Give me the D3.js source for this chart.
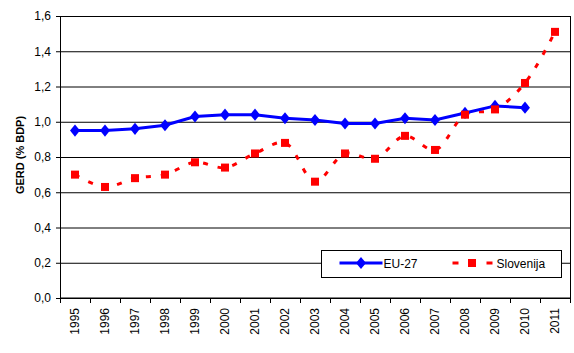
<!DOCTYPE html>
<html>
<head>
<meta charset="utf-8">
<script src="https://cdn.jsdelivr.net/npm/d3@7"></script>
<style>
  body { margin: 0; background: #fff; }
  text { font-family: Arial, "Liberation Sans", sans-serif; }
</style>
</head>
<body>
<div class="chart"></div>
<script>
// data
var years = ['1995', '1996', '1997', '1998', '1999', '2000', '2001', '2002', '2003',
             '2004', '2005', '2006', '2007', '2008', '2009', '2010', '2011'];
var eu27 = [0.95, 0.95, 0.96, 0.98, 1.03, 1.04, 1.04, 1.02, 1.01,
            0.99, 0.99, 1.02, 1.01, 1.05, 1.09, 1.08, null];
var slovenija = [0.70, 0.63, 0.68, 0.70, 0.77, 0.74, 0.82, 0.88, 0.66,
                 0.82, 0.79, 0.92, 0.84, 1.04, 1.07, 1.22, 1.51];
var yTicks = [0, 0.2, 0.4, 0.6, 0.8, 1.0, 1.2, 1.4, 1.6];

var width = 574,
    height = 353,
    margin = { top: 16, right: 4, bottom: 55, left: 60 },
    w = width - margin.left - margin.right,
    h = height - margin.top - margin.bottom;

var svg = d3.select(".chart")
    .append("svg")
    .attr("width", width)
    .attr("height", height);

var g = svg.append("g")
    .attr("transform", "translate(" + margin.left + "," + margin.top + ")");

var x = d3.scaleBand()
    .domain(years)
    .range([0, w]);

var y = d3.scaleLinear()
    .domain([0, 1.6])
    .range([h, 0]);

// gridlines
g.append("g")
    .attr("class", "grid")
    .call(d3.axisLeft(y).tickValues(yTicks).tickSize(-w).tickFormat(""))
    .call(s => s.select(".domain").remove())
    .selectAll("line")
    .attr("stroke", "#000");

// right border
g.append("line")
    .attr("x1", w + 0.5).attr("x2", w + 0.5)
    .attr("y1", 0).attr("y2", h)
    .attr("stroke", "#000");

// Y axis
g.append("g")
    .call(d3.axisLeft(y).tickValues(yTicks).tickSize(4).tickPadding(5)
        .tickFormat(d => d3.format(".1f")(d).replace(".", ",")))
    .call(s => s.select(".domain").attr("stroke", "#000"))
    .selectAll("text")
    .style("font-size", "12px")
    .attr("fill", "#000");

// X axis, ticks on category boundaries
var xAxis = g.append("g")
    .attr("transform", "translate(0," + h + ")");

xAxis.append("line")
    .attr("x1", 0).attr("x2", w)
    .attr("stroke", "#000");

xAxis.selectAll(".tick")
    .data(years.concat(["end"]))
    .enter()
    .append("line")
    .attr("x1", (d, i) => i * x.bandwidth() + 0.5)
    .attr("x2", (d, i) => i * x.bandwidth() + 0.5)
    .attr("y1", 0)
    .attr("y2", 5)
    .attr("stroke", "#000");

xAxis.selectAll(".lbl")
    .data(years)
    .enter()
    .append("text")
    .attr("transform", d => "translate(" + (x(d) + x.bandwidth() / 2 + 4) + ",10) rotate(-90)")
    .attr("text-anchor", "end")
    .style("font-size", "12px")
    .text(d => d);

// Y axis title
svg.append("text")
    .attr("transform", "translate(24,155) rotate(-90)")
    .attr("text-anchor", "middle")
    .style("font-size", "11px")
    .style("font-weight", "bold")
    .text("GERD (% BDP)");

var cx = i => x(years[i]) + x.bandwidth() / 2;

// Slovenija: dashed smoothed red line with square markers
var slLine = d3.line()
    .x((d, i) => cx(i))
    .y(d => y(d))
    .curve(d3.curveCatmullRom.alpha(0.5));

g.append("path")
    .datum(slovenija)
    .attr("d", slLine)
    .attr("fill", "none")
    .attr("stroke", "#ff0000")
    .attr("stroke-width", 3)
    .attr("stroke-dasharray", "5,10");

// EU-27 line
var euLine = d3.line()
    .defined(d => d != null)
    .x((d, i) => cx(i))
    .y(d => y(d));

g.append("path")
    .datum(eu27)
    .attr("d", euLine)
    .attr("fill", "none")
    .attr("stroke", "#0000ff")
    .attr("stroke-width", 3);

var diamond = d3.symbol().type(d3.symbolDiamond2).size(78);

g.selectAll(".eu")
    .data(eu27)
    .enter()
    .append("path")
    .filter(d => d != null)
    .attr("d", diamond)
    .attr("transform", (d, i) => "translate(" + cx(i) + "," + y(d) + ") scale(0.9,1.1)")
    .attr("fill", "#0000ff");

g.selectAll(".sl")
    .data(slovenija)
    .enter()
    .append("rect")
    .attr("x", (d, i) => cx(i) - 4)
    .attr("y", d => y(d) - 4)
    .attr("width", 8)
    .attr("height", 8)
    .attr("fill", "#ff0000");

// legend
var lg = svg.append("g").attr("transform", "translate(321.5,250.5)");
lg.append("rect")
    .attr("width", 240)
    .attr("height", 27)
    .attr("fill", "#fff")
    .attr("stroke", "#000");

lg.append("line")
    .attr("x1", 18).attr("x2", 61)
    .attr("y1", 12.5).attr("y2", 12.5)
    .attr("stroke", "#0000ff")
    .attr("stroke-width", 3);
lg.append("path")
    .attr("d", diamond)
    .attr("transform", "translate(39.5,12.5) scale(0.9,1.1)")
    .attr("fill", "#0000ff");
lg.append("text")
    .attr("x", 62).attr("y", 17)
    .style("font-size", "12px")
    .text("EU-27");

lg.append("line")
    .attr("x1", 131).attr("x2", 174)
    .attr("y1", 12.5).attr("y2", 12.5)
    .attr("stroke", "#ff0000")
    .attr("stroke-width", 3)
    .attr("stroke-dasharray", "6,11");
lg.append("rect")
    .attr("x", 146.5).attr("y", 8.5)
    .attr("width", 8).attr("height", 8)
    .attr("fill", "#ff0000");
lg.append("text")
    .attr("x", 175).attr("y", 17)
    .style("font-size", "12px")
    .text("Slovenija");
</script>
</body>
</html>
